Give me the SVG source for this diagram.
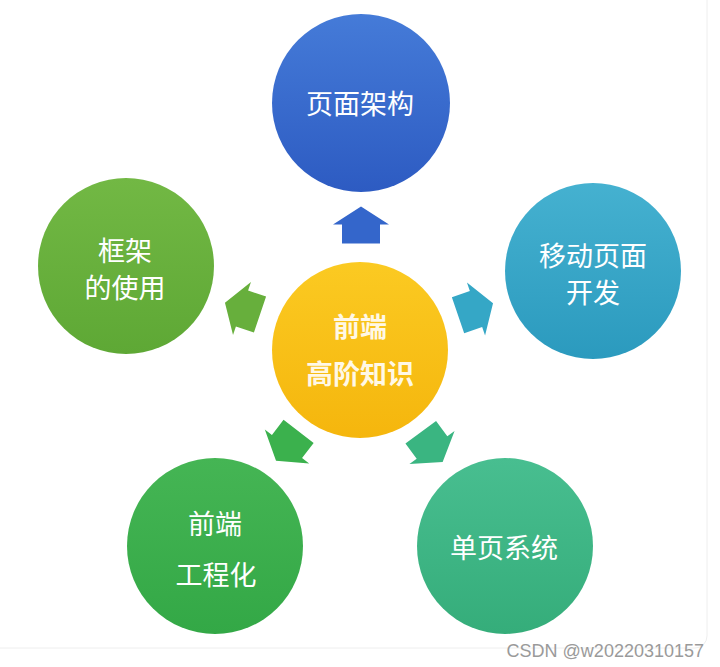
<svg xmlns="http://www.w3.org/2000/svg" width="720" height="667" viewBox="0 0 720 667">
  <defs>
    <linearGradient id="gBlue" x1="0" y1="0" x2="0" y2="1">
      <stop offset="0" stop-color="#457BD8"/>
      <stop offset="1" stop-color="#2D5BC2"/>
    </linearGradient>
    <linearGradient id="gLeaf" x1="0" y1="0" x2="0" y2="1">
      <stop offset="0" stop-color="#72B844"/>
      <stop offset="1" stop-color="#5EA835"/>
    </linearGradient>
    <linearGradient id="gTeal" x1="0" y1="0" x2="0" y2="1">
      <stop offset="0" stop-color="#45B1D0"/>
      <stop offset="1" stop-color="#2B9ABE"/>
    </linearGradient>
    <linearGradient id="gYellow" x1="0" y1="0" x2="0" y2="1">
      <stop offset="0" stop-color="#FBCA22"/>
      <stop offset="1" stop-color="#F5B60D"/>
    </linearGradient>
    <linearGradient id="gGreen" x1="0" y1="0" x2="0" y2="1">
      <stop offset="0" stop-color="#45B554"/>
      <stop offset="1" stop-color="#33A846"/>
    </linearGradient>
    <linearGradient id="gMint" x1="0" y1="0" x2="0" y2="1">
      <stop offset="0" stop-color="#48BE90"/>
      <stop offset="1" stop-color="#35AD7A"/>
    </linearGradient>
    <polygon id="arrow" points="18,0 0,-28 0,-19 -19,-19 -19,19 0,19 0,28"/>
  </defs>
  <style>
    .lbl { font-family: "Noto Sans CJK SC", "Noto Sans", sans-serif; font-size: 27px; fill: #ffffff; text-anchor: middle; dominant-baseline: central; }
    .core { fill: #FFF8E6; font-weight: bold; }
    .wm { font-family: "Liberation Sans", Arial, sans-serif; font-size: 18px; fill: #9a9a9a; text-anchor: end; }
  </style>
  <rect x="0" y="0" width="720" height="667" fill="#ffffff"/>
  <rect x="-12" y="-12" width="719" height="660" rx="12" fill="none" stroke="#eeeeee" stroke-width="1"/>

  <g id="connectors">
    <use href="#arrow" fill="#3466CB" transform="translate(361,224.5) rotate(-90)"/>
    <use href="#arrow" fill="#67AF3C" transform="translate(242,308.5) rotate(198.7)"/>
    <use href="#arrow" fill="#35A7C6" transform="translate(476,309) rotate(-18.9)"/>
    <use href="#arrow" fill="#3BB14D" transform="translate(287,446.5) rotate(127.6)"/>
    <use href="#arrow" fill="#3AB581" transform="translate(432,447.5) rotate(53.7)"/>
  </g>

  <g id="node-page-arch">
    <circle cx="361" cy="103" r="89" fill="url(#gBlue)"/>
    <text class="lbl" x="360" y="102">页面架构</text>
  </g>
  <g id="node-framework">
    <circle cx="126" cy="266" r="88" fill="url(#gLeaf)"/>
    <text class="lbl" x="125" y="249">框架</text>
    <text class="lbl" x="125" y="286">的使用</text>
  </g>
  <g id="node-mobile">
    <circle cx="593" cy="271" r="88" fill="url(#gTeal)"/>
    <text class="lbl" x="593" y="254">移动页面</text>
    <text class="lbl" x="593" y="291">开发</text>
  </g>
  <g id="node-engineering">
    <circle cx="215" cy="546" r="88" fill="url(#gGreen)"/>
    <text class="lbl" x="215" y="522">前端</text>
    <text class="lbl" x="216" y="573">工程化</text>
  </g>
  <g id="node-spa">
    <circle cx="505" cy="546" r="88" fill="url(#gMint)"/>
    <text class="lbl" x="504" y="546">单页系统</text>
  </g>
  <g id="node-core">
    <circle cx="360" cy="350" r="88" fill="url(#gYellow)"/>
    <text class="lbl core" x="360" y="325">前端</text>
    <text class="lbl core" x="360" y="372">高阶知识</text>
  </g>

  <text class="wm" x="704" y="657">CSDN @w20220310157</text>
</svg>
